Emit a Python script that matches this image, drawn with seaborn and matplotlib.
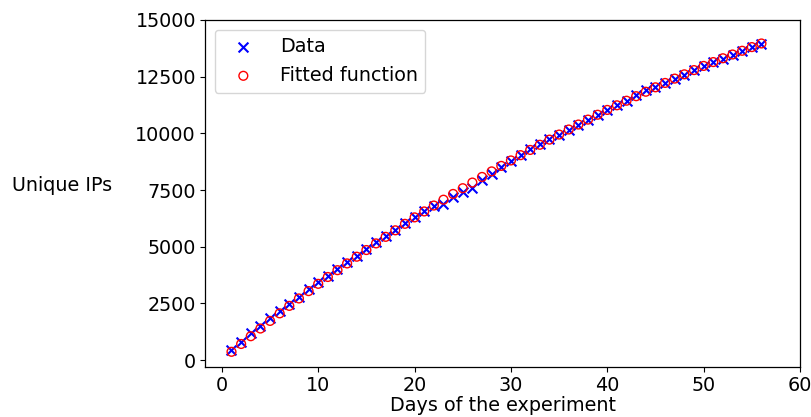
import matplotlib
matplotlib.use("Agg")
import matplotlib.pyplot as plt
import seaborn as sns
import pandas as pd

days = list(range(1, 57))
data_ips = [450, 820, 1190, 1520, 1850, 2170, 2490, 2800, 3120, 3430,
            3700, 4000, 4320, 4600, 4910, 5190, 5480, 5740, 6030, 6320,
            6580, 6790, 6900, 7200, 7430, 7580, 7940, 8210, 8530, 8800,
            9044, 9294, 9530, 9760, 9940, 10148, 10360, 10589, 10800, 11030,
            11240, 11441, 11700, 11920, 12050, 12236, 12405, 12590, 12795, 12971,
            13150, 13297, 13474, 13650, 13797, 13930]
fitted_ips = [370, 715, 1057, 1396, 1732, 2065, 2395, 2722, 3046, 3367,
              3669, 3969, 4267, 4563, 4857, 5149, 5439, 5727, 6013, 6297,
              6559, 6819, 7076, 7331, 7583, 7833, 8080, 8325, 8567, 8807,
              9040, 9271, 9499, 9725, 9949, 10171, 10391, 10608, 10823, 11035,
              11239, 11441, 11640, 11837, 12032, 12225, 12416, 12605, 12791, 12975,
              13145, 13313, 13479, 13643, 13805, 13965]

FS = 13.8

sns.set_style("ticks")
plt.rcParams.update({
    "font.family": ["DejaVu Sans"],
    "font.size": FS,
    "text.color": "black",
    "axes.labelcolor": "black",
    "xtick.color": "black",
    "ytick.color": "black",
    "axes.edgecolor": "black",
    "xtick.major.size": 3.5,
    "ytick.major.size": 3.5,
})

df = pd.DataFrame({"day": days, "data": data_ips, "fitted": fitted_ips})

fig, ax = plt.subplots(figsize=(8.11, 4.17), dpi=100)
fig.subplots_adjust(left=205/811, right=800/811, top=1-20/417, bottom=1-367/417)

sns.scatterplot(data=df, x="day", y="data", marker="x", color="blue",
                s=50, linewidth=1.5, label="Data", ax=ax)
sns.scatterplot(data=df, x="day", y="fitted", marker="o", facecolors="none",
                edgecolor="red", s=40, linewidth=1.0, label="Fitted function", ax=ax)

ax.set_xlim(-1.75, 60)
ax.set_ylim(-300, 15000)
ax.set_xticks([0, 10, 20, 30, 40, 50, 60])
ax.set_yticks([0, 2500, 5000, 7500, 10000, 12500, 15000])
ax.tick_params(labelsize=FS, pad=3)
for sp in ax.spines.values():
    sp.set_visible(True)
    sp.set_color("black")
    sp.set_linewidth(0.9)

ax.set_xlabel("Days of the experiment", fontsize=FS, labelpad=1)
ax.set_ylabel("Unique IPs", fontsize=FS, rotation=0, ha="center", va="center")
ax.yaxis.set_label_coords(-0.24, 0.524)

leg = ax.legend(loc="upper left", fontsize=FS, handlelength=2.2, frameon=True)
leg.get_frame().set_edgecolor("#cccccc")

fig.savefig("out.png", dpi=100)
